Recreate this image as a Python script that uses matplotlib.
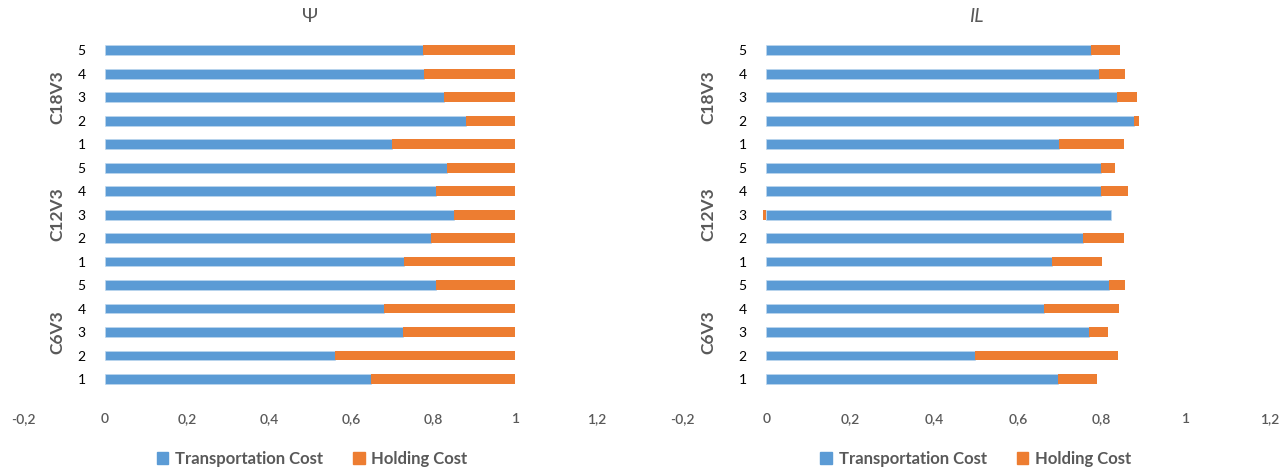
import numpy as np
import matplotlib.pyplot as plt
from matplotlib.patches import Patch

# instance labels, bottom to top
groups = ["C6V3", "C12V3", "C18V3"]
instances = ["1", "2", "3", "4", "5"]

# Psi panel (shares, always sum to 1)
psi_transport = [0.648, 0.561, 0.726, 0.681, 0.806,
                 0.730, 0.794, 0.851, 0.808, 0.835,
                 0.700, 0.881, 0.827, 0.778, 0.775]
psi_holding = [0.352, 0.439, 0.274, 0.319, 0.194,
               0.270, 0.206, 0.149, 0.192, 0.165,
               0.300, 0.119, 0.173, 0.222, 0.225]

# IL panel
il_transport = [0.695, 0.499, 0.770, 0.662, 0.818,
                0.682, 0.756, 0.822, 0.799, 0.799,
                0.698, 0.878, 0.837, 0.793, 0.775]
il_holding = [0.095, 0.340, 0.046, 0.180, 0.039,
              0.120, 0.098, -0.007, 0.064, 0.033,
              0.156, 0.012, 0.047, 0.064, 0.070]

xticks = [-0.2, 0, 0.2, 0.4, 0.6, 0.8, 1, 1.2]

blue = "#5B9BD5"
orange = "#ED7D31"
grey = "#595959"

plt.rcParams["font.family"] = ["Lato", "DejaVu Sans"]

fig = plt.figure(figsize=(12.84, 4.68), dpi=100)
ax1 = fig.add_axes([0.018, 0.165, 0.447, 0.753])
ax2 = fig.add_axes([0.5315, 0.165, 0.457, 0.753])


def draw(ax, trans, hold, title, title_style, group_x):
    trans = np.array(trans)
    hold = np.array(hold)
    y = np.arange(len(trans))
    # negatives stack from zero like Excel does
    left = np.where(hold >= 0, trans, 0)
    ax.barh(y, trans, height=0.42, color=blue, edgecolor="#BDD7EE", linewidth=0.5)
    ax.barh(y, hold, left=left, height=0.42, color=orange)
    ax.set_xlim(-0.2, 1.2)
    ax.set_ylim(-0.5, len(trans) - 0.5)
    ax.set_xticks(xticks)
    ax.set_xticklabels([("%g" % t).replace(".", ",") for t in xticks],
                       color=grey, fontsize=10, fontweight="semibold")
    ax.set_yticks(y)
    ax.set_yticklabels(instances * len(groups), color=grey,
                       fontsize=13, fontweight="bold", family="Open Sans")
    ax.spines["left"].set_position(("data", 0))
    for s in ax.spines.values():
        s.set_visible(False)
    ax.tick_params(length=0)
    ax.tick_params(axis="y", pad=14)
    ax.tick_params(axis="x", pad=16)
    for i, g in enumerate(groups):
        ax.text(group_x, i * 5 + 2, g, rotation=90, ha="center", va="center",
                color=grey, fontsize=12.5, fontweight="bold")
    ax.set_title(title, color=grey, fontsize=14, style=title_style, pad=12)


draw(ax1, psi_transport, psi_holding, "Ψ", "normal", -0.117)
draw(ax2, il_transport, il_holding, "IL", "italic", -0.138)

handles = [Patch(color=blue, label="Transportation Cost"),
           Patch(color=orange, label="Holding Cost")]
for cx in (0.243, 0.76):
    fig.legend(handles=handles, loc="center", bbox_to_anchor=(cx, 0.02),
               ncol=2, frameon=False, labelcolor=grey,
               handlelength=0.7, handleheight=0.7, handletextpad=0.4,
               columnspacing=1.8, prop={"weight": "bold", "size": 12})

fig.savefig("out.png", dpi=100)
